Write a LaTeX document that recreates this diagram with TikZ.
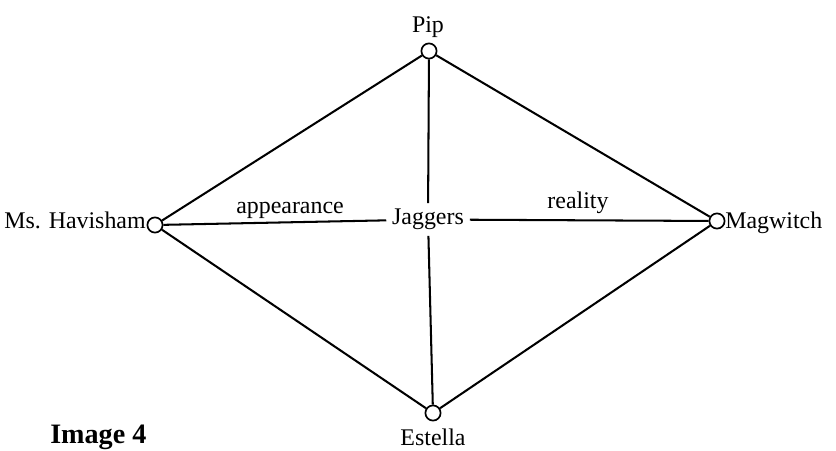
\documentclass[tikz,border=0pt]{standalone}
\usepackage{fontspec}
\setmainfont{Liberation Serif}
\usetikzlibrary{positioning}

\tikzset{
  vertex/.style={circle,draw,line width=1.2pt,minimum size=0.38cm,inner sep=0pt},
  person/.style={font=\fontsize{17}{20}\selectfont,inner sep=0pt},
  link/.style={line width=1.45pt}
}

\begin{document}
\begin{tikzpicture}[x=0.025cm,y=-0.025cm]
  \useasboundingbox (0,0) rectangle (836,450);
  % the four corners and the middle
  \node[vertex] (pip) at (429,51) {};
  \node[vertex] (havisham) at (155,225) {};
  \node[vertex] (magwitch) at (717,221) {};
  \node[vertex] (estella) at (433,413) {};
  \node[person,inner sep=4pt] (jaggers) at (428,219.5) {Jaggers};
  \draw[link] (pip) -- (havisham);
  \draw[link] (pip) -- (magwitch);
  \draw[link] (havisham) -- (estella);
  \draw[link] (magwitch) -- (estella);
  \draw[link] (pip) -- (jaggers);
  \draw[link] (jaggers) -- (estella);
  \draw[link] (havisham) -- (jaggers);
  \draw[link] (jaggers) -- (magwitch);
  % names
  \node[person,anchor=base] (piptext) at (428,32) {Pip};
  \node[person,anchor=base east] (havtext) at (146,228) {Ms. Havisham};
  \node[person,anchor=base west] (magtext) at (725,228) {Magwitch};
  \node[person,anchor=base] (esttext) at (433,445) {Estella};
  \node[person,anchor=base] (appear) at (290,213) {appearance};
  \node[person,anchor=base] (real) at (578,208) {reality};
  \node[font=\bfseries\fontsize{20}{24}\selectfont,inner sep=0pt,anchor=base west] (caption) at (50,443) {Image 4};
\end{tikzpicture}
\end{document}
